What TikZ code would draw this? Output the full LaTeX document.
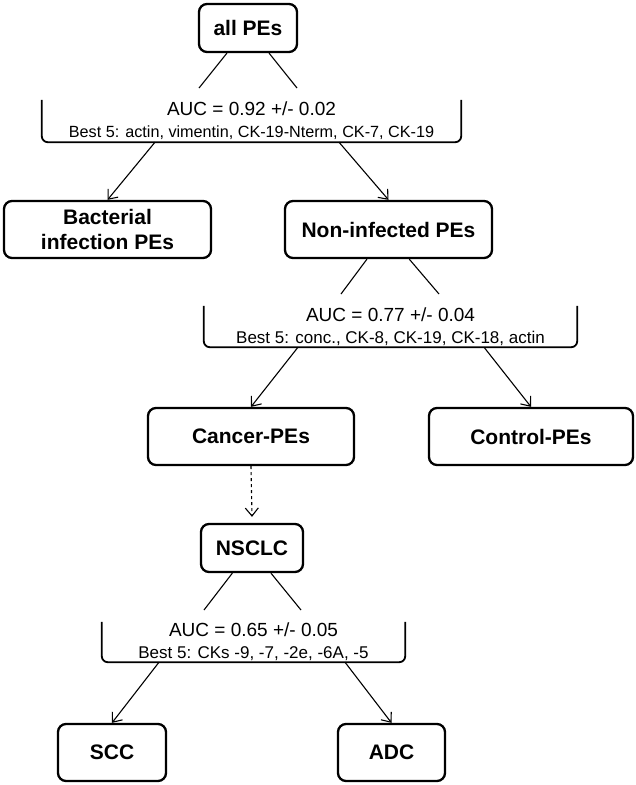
\documentclass[tikz,border=0pt]{standalone}
\usepackage{fontspec}
\setmainfont{Liberation Sans}
\usetikzlibrary{arrows.meta}
\newcommand\bestsize{\fontsize{17}{22}\selectfont}
\begin{document}
\begin{tikzpicture}[x=1pt, y=-1pt,
  box/.style={draw, line width=2.3pt, rounded corners=8pt, align=center, inner sep=0pt,
    font=\bfseries\fontsize{21}{25}\selectfont},
  split/.style={inner sep=0pt, align=center, font=\fontsize{19}{22}\selectfont},
  bracket/.style={line width=1.8pt, rounded corners=6pt},
  link/.style={line width=1.1pt},
  arr/.style={line width=1.1pt, -{Straight Barb[length=8pt, width=13pt]}}]
\useasboundingbox (0,0) rectangle (636,785);
\node [box, minimum width=98pt, minimum height=48pt] (allpe) at (248,28) {all PEs};
\node [box, minimum width=207pt, minimum height=57pt] (bact) at (107.5,229.5) {Bacterial\\infection PEs};
\node [box, minimum width=207pt, minimum height=57pt] (noninf) at (388.5,229.5) {Non-infected PEs};
\node [box, minimum width=206pt, minimum height=57pt] (cancer) at (251,436.5) {Cancer-PEs};
\node [box, minimum width=204pt, minimum height=57pt] (control) at (531,436.5) {Control-PEs};
\node [box, minimum width=102pt, minimum height=48pt] (nsclc) at (252,548) {NSCLC};
\node [box, minimum width=108pt, minimum height=57pt] (scc) at (112,752.5) {SCC};
\node [box, minimum width=107pt, minimum height=57pt] (adc) at (391.5,752.5) {ADC};
\node [split, minimum width=419pt, minimum height=42pt] (split1) at (251.5,121)
  {AUC = 0.92 +/- 0.02\\\fontsize{16.2}{22}\selectfont Best 5: actin, vimentin, CK-19-Nterm, CK-7, CK-19};
\node [split, minimum width=373pt, minimum height=41pt] (split2) at (390.5,326.5)
  {AUC = 0.77 +/- 0.04\\\bestsize Best 5: conc., CK-8, CK-19, CK-18, actin};
\node [split, minimum width=303pt, minimum height=40pt] (split3) at (253.5,642)
  {AUC = 0.65 +/- 0.05\\\bestsize Best 5: CKs -9, -7, -2e, -6A, -5};
\coordinate (a1) at (199,88);
\coordinate (a2) at (297,88);
\coordinate (b1) at (341,294);
\coordinate (b2) at (439,294);
\coordinate (c1) at (204,610);
\coordinate (c2) at (301,610);
\draw [bracket] (split1.north west) |- (split1.south) -| (split1.north east);
\draw [bracket] (split2.north west) |- (split2.south) -| (split2.north east);
\draw [bracket] (split3.north west) |- (split3.south) -| (split3.north east);
\draw [link] (allpe.230) -- (a1);
\draw [link] (allpe.310) -- (a2);
\draw [link] (noninf.234.6) -- (b1);
\draw [link] (noninf.305.4) -- (b2);
\draw [link] (nsclc.232.8) -- (c1);
\draw [link] (nsclc.307.2) -- (c2);
\draw [arr] ([xshift=-96.5pt]split1.south) -- (bact.north);
\draw [arr] ([xshift=87.5pt]split1.south) -- (noninf.north);
\draw [arr] ([xshift=-92.5pt]split2.south) -- (cancer.north);
\draw [arr] ([xshift=93.5pt]split2.south) -- (control.north);
\draw [arr, dashed] (cancer.south) -- ([yshift=6pt]nsclc.north);
\draw [arr] ([xshift=-94.5pt]split3.south) -- (scc.north);
\draw [arr] ([xshift=91.5pt]split3.south) -- (adc.north);
\end{tikzpicture}
\end{document}
